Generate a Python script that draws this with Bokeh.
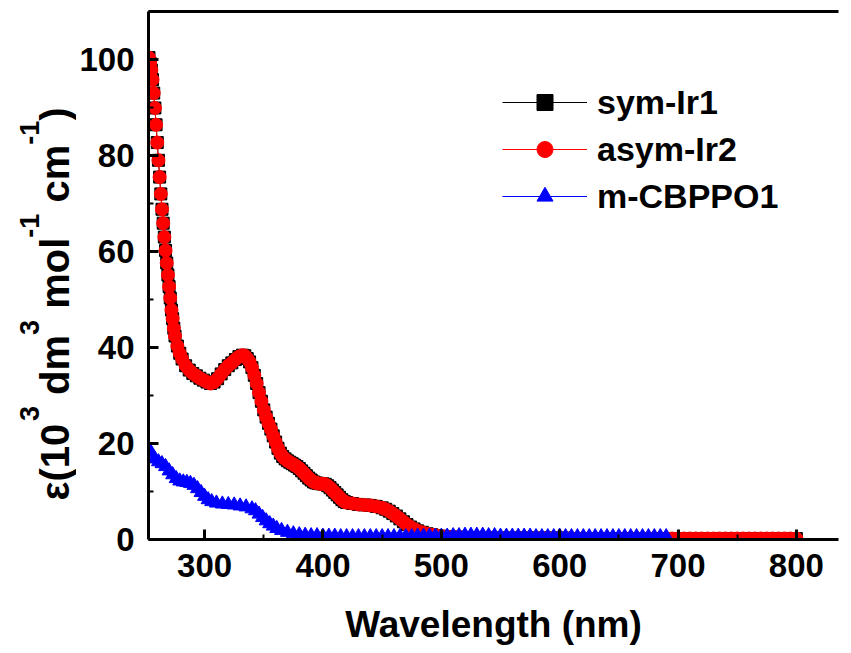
from math import pi
from bokeh.plotting import figure
from bokeh.layouts import row
from bokeh.models import Range1d, LinearAxis, Legend, LegendItem, FixedTicker
from bokeh.core.properties import value
from bokeh.embed import file_html
from bokeh.resources import INLINE

# ---------------- data ----------------
wl_ir = [253, 254, 255, 256, 257, 258, 259, 260, 261, 262, 263, 264, 265, 266, 267,
         268, 269, 270, 271, 272, 273, 274, 275, 277, 279, 281, 284, 287, 290, 293,
         296, 299, 302, 305, 308, 311, 314, 317, 320, 323, 326, 329, 332, 334, 336,
         338, 340, 342, 344, 346, 348, 350, 352, 354, 356, 358, 360, 362, 364, 366,
         368, 370, 372, 374, 376, 378, 380, 382, 384, 386, 388, 390, 392, 394, 396,
         398, 400, 402, 404, 406, 408, 410, 412, 414, 416, 418, 420, 425, 430, 435,
         440, 445, 450, 453, 456, 459, 462, 465, 468, 471, 474, 477, 480, 484, 488,
         492, 496, 500, 505, 510, 515, 520, 525, 530, 535, 540, 545, 550, 555, 560,
         565, 570, 575, 580, 585, 590, 595, 600, 605, 610, 615, 620, 625, 630, 635,
         640, 645, 650, 655, 660, 665, 670, 675, 680, 685, 690, 695, 700, 705, 710,
         715, 720, 725, 730, 735, 740, 745, 750, 755, 760, 765, 770, 775, 780, 785,
         790, 795, 800]

asym_ir2 = [100.4, 99.2, 97.8, 95.8, 93.0, 89.9, 86.4, 82.7, 79.0, 75.5, 72.0, 68.8, 65.9, 63.0, 60.2,
            57.6, 55.1, 52.7, 50.3, 47.8, 46.0, 44.0, 42.4, 40.3, 38.8, 37.6, 36.2, 35.3, 34.6, 34.1,
            33.6, 33.2, 32.8, 32.5, 32.8, 33.5, 34.5, 35.4, 36.2, 36.8, 37.5, 38.1, 38.4, 38.3, 37.7,
            37.0, 35.8, 34.2, 32.5, 30.6, 28.8, 27.0, 25.5, 24.2, 23.0, 21.6, 20.3, 19.0, 18.0, 17.3,
            16.8, 16.4, 16.1, 15.8, 15.5, 15.2, 14.8, 14.3, 13.8, 13.3, 12.8, 12.4, 12.0, 11.8, 11.7,
            11.6, 11.6, 11.5, 11.2, 10.8, 10.3, 9.8, 9.3, 8.8, 8.3, 7.9, 7.7, 7.5, 7.3, 7.2,
            7.1, 6.9, 6.6, 6.3, 5.9, 5.4, 4.9, 4.3, 3.7, 3.1, 2.6, 2.2, 1.8, 1.5, 1.2,
            1.0, 0.8, 0.7, 0.6, 0.5, 0.5, 0.4, 0.4, 0.4, 0.4, 0.4, 0.3, 0.3, 0.3, 0.3,
            0.3, 0.3, 0.3, 0.3, 0.3, 0.3, 0.3, 0.3, 0.3, 0.2, 0.2, 0.2, 0.2, 0.2, 0.2,
            0.2, 0.2, 0.2, 0.2, 0.2, 0.2, 0.2, 0.2, 0.2, 0.2, 0.2, 0.2, 0.2, 0.2, 0.2,
            0.2, 0.2, 0.2, 0.2, 0.2, 0.2, 0.2, 0.2, 0.2, 0.2, 0.2, 0.2, 0.2, 0.2, 0.2,
            0.2, 0.2, 0.2]

sym_ir1 = [100.4, 99.2, 97.8, 95.8, 93.0, 89.9, 86.4, 82.7, 79.0, 75.5, 72.0, 68.8, 65.9, 63.0, 60.2,
           57.6, 55.1, 52.7, 50.3, 47.8, 46.0, 44.0, 42.4, 40.3, 38.8, 37.6, 36.2, 35.3, 34.6, 34.1,
           33.6, 33.2, 32.8, 32.5, 32.8, 33.5, 34.5, 35.4, 36.2, 36.8, 37.5, 38.1, 38.4, 38.3, 37.7,
           37.0, 35.8, 34.2, 32.5, 30.6, 28.8, 27.0, 25.5, 24.2, 23.0, 21.6, 20.3, 19.0, 18.0, 17.3,
           16.8, 16.4, 16.1, 15.8, 15.5, 15.2, 14.8, 14.3, 13.8, 13.3, 12.8, 12.4, 12.0, 11.8, 11.7,
           11.6, 11.6, 11.5, 11.2, 10.8, 10.3, 9.8, 9.3, 8.8, 8.3, 7.9, 7.7, 7.5, 7.3, 7.2,
           7.1, 6.9, 6.6, 6.3, 5.9, 5.4, 4.9, 4.3, 3.7, 3.1, 2.6, 2.2, 1.8, 1.5, 1.2,
           1.0, 0.8, 0.7, 0.6, 0.5, 0.5, 0.4, 0.4, 0.4, 0.4, 0.4, 0.3, 0.3, 0.3, 0.3,
           0.3, 0.3, 0.3, 0.3, 0.3, 0.3, 0.3, 0.3, 0.3, 0.2, 0.2, 0.2, 0.2, 0.2, 0.2,
           0.2, 0.2, 0.2, 0.2, 0.2, 0.2, 0.2, 0.2, 0.2, 0.2, 0.2, 0.2, 0.2, 0.2, 0.2,
           0.2, 0.2, 0.2, 0.2, 0.2, 0.2, 0.2, 0.2, 0.2, 0.2, 0.2, 0.2, 0.2, 0.2, 0.2,
           0.2, 0.2, 0.2]

wl_cb = [253, 255, 258, 261, 264, 267, 270, 273, 276, 279, 282, 285, 288, 291, 294,
         297, 300, 303, 306, 310, 315, 320, 325, 330, 335, 340, 343, 346, 349, 352,
         355, 358, 361, 365, 370, 375, 380, 385, 390, 395, 400, 405, 410, 415, 420,
         425, 430, 435, 440, 445, 450, 455, 460, 465, 470, 475, 480, 485, 490, 495,
         500, 505, 510, 515, 520, 525, 530, 535, 540, 545, 550, 555, 560, 565, 570,
         575, 580, 585, 590, 595, 600, 605, 610, 615, 620, 625, 630, 635, 640, 645,
         650, 655, 660, 665, 670, 675, 680, 685, 690]

m_cbppo1 = [18.8, 18.0, 16.8, 16.2, 15.8, 15.2, 14.3, 13.5, 12.7, 12.2, 12.0, 11.9, 11.7, 11.3, 10.6,
            9.8, 9.0, 8.3, 7.9, 7.6, 7.4, 7.3, 7.2, 7.0, 6.8, 6.4, 6.0, 5.3, 4.6, 3.9,
            3.3, 2.8, 2.3, 1.9, 1.5, 1.2, 1.0, 0.9, 0.8, 0.8, 0.7, 0.7, 0.7, 0.6, 0.6,
            0.6, 0.6, 0.6, 0.6, 0.6, 0.6, 0.6, 0.6, 0.6, 0.6, 0.6, 0.7, 0.7, 0.7, 0.7,
            0.7, 0.7, 0.8, 0.8, 0.9, 0.9, 0.9, 0.9, 0.8, 0.8, 0.7, 0.7, 0.7, 0.7, 0.7,
            0.7, 0.6, 0.6, 0.6, 0.6, 0.7, 0.6, 0.6, 0.6, 0.6, 0.6, 0.6, 0.6, 0.6, 0.6,
            0.6, 0.6, 0.6, 0.6, 0.6, 0.6, 0.6, 0.6, 0.6]

series_labels = ["sym-Ir1", "asym-Ir2", "m-CBPPO1"]
x_ticks = [300, 400, 500, 600, 700, 800]
y_ticks = [0, 20, 40, 60, 80, 100]
x_label = "Wavelength (nm)"
y_label_parts = [("ε(10", False), ("3", True), (" dm", False), ("3", True),
                 (" mol", False), ("-1", True), (" cm", False), ("-1", True), (")", False)]

# ---------------- layout ----------------
FONT = "Liberation Sans"
W, H = 851, 653
TW = 76                       # width of the strip holding the y title
LEFT, RIGHT, TOP, BOTTOM = 146, 13, 11, 114
X0, X1 = 252.6, 835.6
Y0, Y1 = 0, 110

p = figure(width=W - TW, height=H, x_range=Range1d(X0, X1), y_range=Range1d(Y0, Y1),
           output_backend="svg", toolbar_location=None,
           min_border_left=LEFT - TW, min_border_right=RIGHT,
           min_border_top=TOP, min_border_bottom=BOTTOM)
p.outline_line_color = None
p.grid.visible = False
p.background_fill_color = "white"
p.border_fill_color = "white"

for ax, ticks in ((p.xaxis[0], x_ticks), (p.yaxis[0], y_ticks)):
    step = ticks[1] - ticks[0]
    ax.ticker = FixedTicker(ticks=ticks,
                            minor_ticks=[t + step / 2 for t in [ticks[0] - step] + ticks])
    ax.axis_line_width = 3
    ax.axis_line_color = "black"
    ax.major_tick_in = 10
    ax.major_tick_out = 0
    ax.minor_tick_in = 5
    ax.minor_tick_out = 0
    ax.major_tick_line_width = 3
    ax.minor_tick_line_width = 2
    ax.major_label_text_font = FONT
    ax.major_label_text_font_style = "bold"
    ax.major_label_text_font_size = "33px"
    ax.major_label_text_color = "black"

p.xaxis[0].major_label_standoff = 14
p.yaxis[0].major_label_standoff = 14
p.xaxis[0].axis_label = x_label
p.xaxis[0].axis_label_text_font = FONT
p.xaxis[0].axis_label_text_font_style = "bold"
p.xaxis[0].axis_label_text_font_size = "37px"
p.xaxis[0].axis_label_text_color = "black"
p.xaxis[0].axis_label_standoff = 24

top_axis = LinearAxis(ticker=FixedTicker(ticks=[]), axis_line_width=3,
                      major_tick_line_color=None, minor_tick_line_color=None,
                      major_label_text_font_size="0px")
p.add_layout(top_axis, "above")

# ---------------- series ----------------
l1 = p.line(wl_ir, sym_ir1, line_color="black", line_width=1)
s1 = p.scatter(wl_ir, sym_ir1, marker="square", size=12, fill_color="black", line_color="black")
l2 = p.line(wl_ir, asym_ir2, line_color="red", line_width=1)
s2 = p.scatter(wl_ir, asym_ir2, marker="circle", size=13, fill_color="red", line_color="red")
l3 = p.line(wl_cb, m_cbppo1, line_color="blue", line_width=1)
s3 = p.scatter(wl_cb, m_cbppo1, marker="triangle", size=14, fill_color="blue", line_color="blue")

legend = Legend(items=[LegendItem(label=series_labels[0], renderers=[l1, s1]),
                       LegendItem(label=series_labels[1], renderers=[l2, s2]),
                       LegendItem(label=series_labels[2], renderers=[l3, s3])],
                location=(354, 323), glyph_width=85, glyph_height=40, label_height=40,
                spacing=7, padding=0, margin=0, label_standoff=10,
                label_text_font=FONT, label_text_font_style="bold", label_text_font_size="34px",
                label_text_color="black",
                border_line_color=None, background_fill_alpha=0)
p.add_layout(legend)

# ---------------- strip with the rotated y title ----------------
# The strip's frame is aligned with the main frame (rows TOP .. H-BOTTOM), so its
# y range is chosen so that data y = H - (pixel row from the top).
t = figure(width=TW, height=H, x_range=Range1d(0, TW), y_range=Range1d(BOTTOM, H - TOP),
           output_backend="svg", toolbar_location=None,
           min_border_left=0, min_border_right=0,
           min_border_top=TOP, min_border_bottom=BOTTOM)
t.axis.visible = False
t.grid.visible = False
t.outline_line_color = None
t.background_fill_color = "white"
t.border_fill_color = "white"

EM = {"ε": 0.54, "(": 0.333, ")": 0.333, " ": 0.278, "-": 0.333, "1": 0.556, "0": 0.556,
      "3": 0.556, "d": 0.611, "m": 0.889, "o": 0.611, "l": 0.278, "c": 0.556}
MAIN, SUP = 40, 27
pos = 500.0
for txt, sup in y_label_parts:
    size = SUP if sup else MAIN
    base_px = 29 if sup else 54
    lead = len(txt) - len(txt.lstrip(" "))
    pos -= lead * EM[" "] * size
    body = txt.strip(" ")
    t.text(x=[base_px], y=[H - pos], text=[body], angle=pi / 2,
           text_font=value(FONT), text_font_style="bold", text_font_size=value(f"{size}px"),
           text_align="left", text_baseline="alphabetic", text_color="black")
    pos -= sum(EM[c] for c in body) * size

layout = row(t, p)
open("out.html", "w").write(file_html(layout, INLINE))
